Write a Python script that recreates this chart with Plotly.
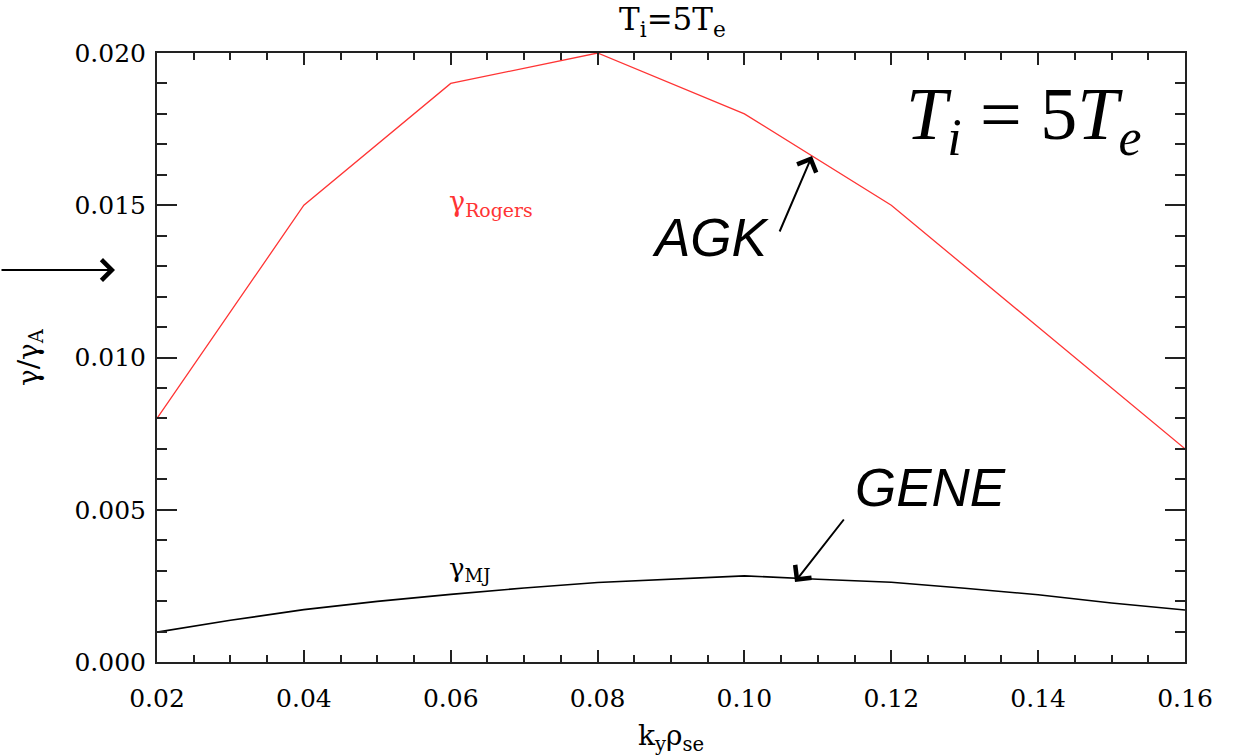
import plotly.graph_objects as go

# ---- data ----
k_rogers = [0.02, 0.04, 0.06, 0.08, 0.10, 0.12, 0.14, 0.16]
gamma_rogers = [0.0080, 0.0150, 0.0190, 0.0200, 0.0180, 0.0150, 0.0110, 0.0070]

k_mj = [0.02, 0.03, 0.04, 0.05, 0.06, 0.07, 0.08, 0.09, 0.10, 0.11, 0.12, 0.13, 0.14, 0.15, 0.16]
gamma_mj = [0.00098, 0.00137, 0.00172, 0.00199, 0.00222, 0.00243, 0.00261, 0.00273,
            0.00283, 0.00272, 0.00262, 0.00242, 0.00221, 0.00194, 0.00171]

x_ticks = [0.02, 0.04, 0.06, 0.08, 0.10, 0.12, 0.14, 0.16]
y_ticks = [0.000, 0.005, 0.010, 0.015, 0.020]

W, H = 1236, 756
L, R, T, B = 157, 1185, 53, 662


def px(xp):
    return (xp - L) / (R - L)


def py(yp):
    return (B - yp) / (B - T)


SERIF = "DejaVu Serif"

fig = go.Figure()
fig.add_trace(go.Scatter(x=k_rogers, y=gamma_rogers, mode="lines",
                         line=dict(color="#ff3434", width=1.3), showlegend=False))
fig.add_trace(go.Scatter(x=k_mj, y=gamma_mj, mode="lines",
                         line=dict(color="black", width=1.6), showlegend=False))

axis_common = dict(showgrid=False, zeroline=False, showline=True, linecolor="#222",
                   linewidth=2, mirror="allticks", ticks="inside", tickcolor="#222",
                   tickwidth=2, tickfont=dict(family=SERIF, size=25, color="black"),
                   automargin=False)

fig.update_xaxes(range=[0.02, 0.16], tickvals=x_ticks,
                 ticktext=[f"{v:.2f}" for v in x_ticks], ticklen=12,
                 minor=dict(ticks="inside", dtick=0.005, tick0=0.02, ticklen=7,
                            tickwidth=1.5, tickcolor="#222"),
                 title=dict(text="k<sub>y</sub>ρ<sub>se</sub>",
                            font=dict(family=SERIF, size=28, color="black"), standoff=14),
                 ticklabelstandoff=13,
                 **axis_common)
fig.update_yaxes(range=[0, 0.020], tickvals=y_ticks,
                 ticktext=[f"{v:.3f}" for v in y_ticks], ticklen=20,
                 minor=dict(ticks="inside", dtick=0.001, tick0=0, ticklen=10,
                            tickwidth=1.5, tickcolor="#222"),
                 title=dict(text="γ/γ<sub>A</sub>",
                            font=dict(family=SERIF, size=28, color="black"), standoff=28),
                 ticklabelstandoff=4,
                 **axis_common)

ann = []
# top title
ann.append(dict(x=px(672), y=py(22), xref="paper", yref="paper", showarrow=False,
                text="T<sub>i</sub>=5T<sub>e</sub>", xanchor="center", yanchor="middle",
                font=dict(family=SERIF, size=31, color="black")))
# big label
ann.append(dict(x=px(1023), y=py(120), xref="paper", yref="paper", showarrow=False,
                text="<i>T</i><sub><i>i</i></sub> = 5<i>T</i><sub><i>e</i></sub>",
                xanchor="center", yanchor="middle",
                font=dict(family="Liberation Serif", size=74, color="black")))
# gamma labels
ann.append(dict(x=px(447), y=py(203), xref="paper", yref="paper", showarrow=False,
                text="γ<sub>Rogers</sub>", xanchor="left", yanchor="middle",
                font=dict(family=SERIF, size=27, color="#ff3434")))
ann.append(dict(x=px(447), y=py(569), xref="paper", yref="paper", showarrow=False,
                text="γ<sub>MJ</sub>", xanchor="left", yanchor="middle",
                font=dict(family=SERIF, size=26, color="black")))
# AGK / GENE
ann.append(dict(x=px(711), y=py(238), xref="paper", yref="paper", showarrow=False,
                text="<i>AGK</i>", xanchor="center", yanchor="middle",
                font=dict(family="Liberation Sans", size=53, color="black")))
ann.append(dict(x=px(930), y=py(487), xref="paper", yref="paper", showarrow=False,
                text="<i>GENE</i>", xanchor="center", yanchor="middle",
                font=dict(family="Liberation Sans", size=53, color="black")))
# arrows
arrow_style = dict(showarrow=True, arrowhead=4, arrowsize=2, arrowwidth=2,
                   arrowcolor="black", text="", standoff=0, startstandoff=0,
                   xref="paper", yref="paper", axref="pixel", ayref="pixel")
ann.append(dict(x=px(115), y=py(270), ax=-115, ay=0, **arrow_style))
ann.append(dict(x=px(812), y=py(156), ax=-33, ay=77, **arrow_style))
ann.append(dict(x=px(795), y=py(582), ax=50, ay=-64, **arrow_style))

fig.update_layout(width=W, height=H, margin=dict(l=L, r=W - R, t=T, b=H - B),
                  paper_bgcolor="white", plot_bgcolor="white", annotations=ann)

fig.write_html("out.html")
